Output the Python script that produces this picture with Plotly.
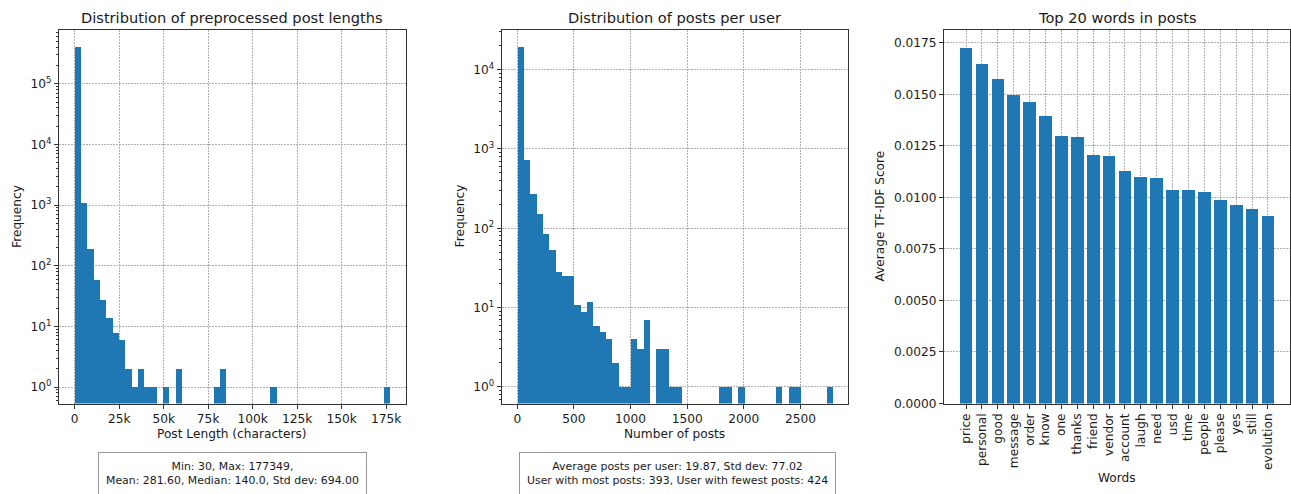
import numpy as np
import plotly.graph_objects as go

W, H = 1291, 494

# ---------------- data ----------------
# Panel 1: post lengths histogram (50 bins between min and max)
LEN_MIN, LEN_MAX = 30, 177349
LEN_COUNTS = [410000, 1100, 191, 60, 28, 14, 8, 6, 2, 1,
              2, 1, 1, 0, 1, 0, 2, 0, 0, 0,
              0, 0, 1, 2, 0, 0, 0, 0, 0, 0,
              0, 1, 0, 0, 0, 0, 0, 0, 0, 0,
              0, 0, 0, 0, 0, 0, 0, 0, 0, 1]
LEN_XTICKS = [0, 25000, 50000, 75000, 100000, 125000, 150000, 175000]
LEN_XTICKTEXT = ["0", "25k", "50k", "75k", "100k", "125k", "150k", "175k"]

# Panel 2: posts per user histogram (50 bins)
POSTS_MIN, POSTS_MAX = 1, 2783
POSTS_COUNTS = [19500, 744, 275, 151, 85, 54, 28, 25, 25, 11,
                9, 12, 6, 5, 4, 2, 1, 1, 4, 3,
                7, 0, 3, 3, 1, 1, 0, 0, 0, 0,
                0, 0, 1, 1, 0, 1, 0, 0, 0, 0,
                0, 1, 0, 1, 1, 0, 0, 0, 0, 1]
POSTS_XTICKS = [0, 500, 1000, 1500, 2000, 2500]

LOG_TICKS = [1, 10, 100, 1000, 10000, 100000]
LOG_TICKTEXT = ["10<sup>0</sup>", "10<sup>1</sup>", "10<sup>2</sup>",
                "10<sup>3</sup>", "10<sup>4</sup>", "10<sup>5</sup>"]

# Panel 3: top words
WORDS = ["price", "personal", "good", "message", "order", "know", "one", "thanks",
         "friend", "vendor", "account", "laugh", "need", "usd", "time", "people",
         "please", "yes", "still", "evolution"]
TFIDF = [0.01726, 0.01651, 0.01578, 0.01498, 0.01465, 0.01396, 0.01302, 0.01293,
         0.01207, 0.01202, 0.01130, 0.01100, 0.01095, 0.01039, 0.01039, 0.01030,
         0.00987, 0.00966, 0.00944, 0.00910]
TFIDF_TICKS = [0, 0.0025, 0.005, 0.0075, 0.01, 0.0125, 0.015, 0.0175]

BOX1 = "Min: 30, Max: 177349,<br>Mean: 281.60, Median: 140.0, Std dev: 694.00"
BOX2 = ("Average posts per user: 19.87, Std dev: 77.02<br>"
        "User with most posts: 393, User with fewest posts: 424")

# ---------------- style ----------------
BLUE = "#1f77b4"
FONT = "DejaVu Sans"
TXT = "#1a1a1a"
SPINE = "#333333"
GRID = "#b0b0b0"
TICK_SIZE = 12.2
TITLE_SIZE = 14.6
BOX_SIZE = 10.9


def px_x(p):
    return p / W


def px_y(p):
    return 1 - p / H


def hist_trace(vmin, vmax, counts, xa, ya):
    edges = np.linspace(vmin, vmax, len(counts) + 1)
    centers = (edges[:-1] + edges[1:]) / 2
    width = edges[1] - edges[0]
    cx = [c for c, n in zip(centers, counts) if n > 0]
    cy = [n for n in counts if n > 0]
    return go.Bar(x=cx, y=cy, width=width, marker=dict(color=BLUE, line=dict(width=0)),
                  xaxis=xa, yaxis=ya, showlegend=False)


fig = go.Figure()
fig.add_trace(hist_trace(LEN_MIN, LEN_MAX, LEN_COUNTS, "x", "y"))
fig.add_trace(hist_trace(POSTS_MIN, POSTS_MAX, POSTS_COUNTS, "x2", "y2"))
fig.add_trace(go.Bar(x=WORDS, y=TFIDF, width=0.8, marker=dict(color=BLUE, line=dict(width=0)),
                     xaxis="x3", yaxis="y3", showlegend=False))

common = dict(showline=True, linecolor=SPINE, linewidth=1, mirror=True,
              ticks="outside", ticklen=4, tickwidth=1, tickcolor=SPINE,
              showgrid=True, gridcolor=GRID, gridwidth=0.6, griddash="2px,1px",
              zeroline=False, tickfont=dict(family=FONT, size=TICK_SIZE, color=TXT))

minor_vals = [m * 10 ** e for e in range(-1, 6) for m in range(2, 10)]
log_minor = dict(tickmode="array", tickvals=minor_vals, ticks="outside", ticklen=2,
                 tickwidth=0.8, tickcolor=SPINE, showgrid=False)

ydom = [px_y(409.3), px_y(30)]

fig.update_layout(
    width=W, height=H, margin=dict(l=0, r=0, t=0, b=0),
    paper_bgcolor="white", plot_bgcolor="white", bargap=0,
    font=dict(family=FONT, color=TXT),
    xaxis=dict(domain=[px_x(59), px_x(406)], range=[-8836, 186215], anchor="y",
               tickmode="array", tickvals=LEN_XTICKS, ticktext=LEN_XTICKTEXT, **common),
    yaxis=dict(domain=ydom, type="log", range=[-0.272, 5.895], anchor="x",
               tickmode="array", tickvals=LOG_TICKS, ticktext=LOG_TICKTEXT,
               minor=log_minor, **common),
    xaxis2=dict(domain=[px_x(501.7), px_x(848.3)], range=[-138, 2922], anchor="y2",
                tickmode="array", tickvals=POSTS_XTICKS,
                ticktext=[str(v) for v in POSTS_XTICKS], **common),
    yaxis2=dict(domain=ydom, type="log", range=[-0.211, 4.506], anchor="x2",
                tickmode="array", tickvals=LOG_TICKS[:5], ticktext=LOG_TICKTEXT[:5],
                minor=log_minor, **common),
    xaxis3=dict(domain=[px_x(944), px_x(1290)], type="category", range=[-1.39, 20.39],
                anchor="y3", tickangle=-90, **common),
    yaxis3=dict(domain=ydom, range=[0, 0.018138], anchor="x3",
                tickmode="array", tickvals=TFIDF_TICKS, tickformat=".4f", **common),
)


def ann(text, x, y, size, angle=0, **kw):
    fig.add_annotation(text=text, x=px_x(x), y=px_y(y), xref="paper", yref="paper",
                       showarrow=False, textangle=angle, xanchor="center",
                       yanchor=kw.pop("yanchor", "middle"),
                       font=dict(family=FONT, size=size, color=TXT), **kw)


# titles
ann("Distribution of preprocessed post lengths", 232.5, 17.5, TITLE_SIZE)
ann("Distribution of posts per user", 675, 17.5, TITLE_SIZE)
ann("Top 20 words in posts", 1117, 17.5, TITLE_SIZE)
# axis titles
ann("Post Length (characters)", 232.5, 440, TICK_SIZE)
ann("Number of posts", 675, 440, TICK_SIZE)
ann("Words", 1117, 485, TICK_SIZE)
ann("Frequency", 17.5, 219.6, TICK_SIZE, angle=-90)
ann("Frequency", 460, 219.6, TICK_SIZE, angle=-90)
ann("Average TF-IDF Score", 880, 219.6, TICK_SIZE, angle=-90)
# stats boxes
ann(BOX1, 232.5, 458, BOX_SIZE, yanchor="top", bordercolor="#999999", borderwidth=1,
    borderpad=7, bgcolor="white", align="center")
ann(BOX2, 677.5, 458, BOX_SIZE, yanchor="top", bordercolor="#999999", borderwidth=1,
    borderpad=7, bgcolor="white", align="center")

fig.write_html("out.html")
